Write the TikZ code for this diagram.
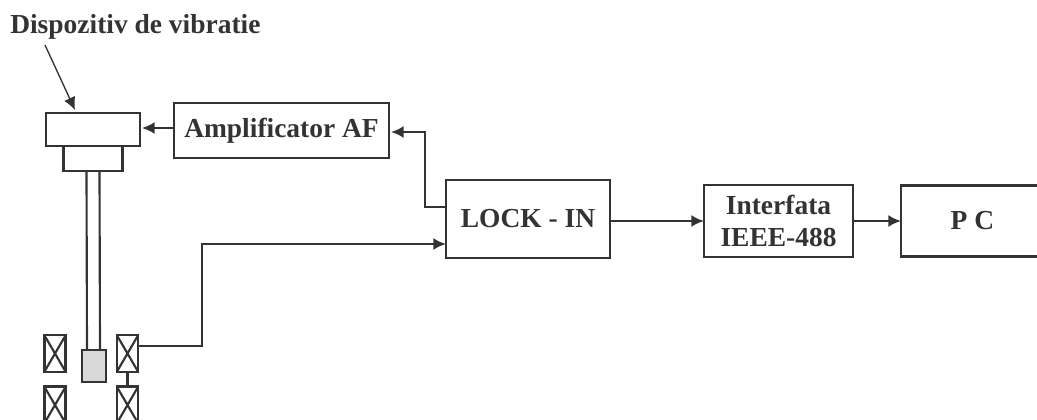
\documentclass[tikz,border=0pt]{standalone}
\usepackage{fontspec}
\setmainfont{Liberation Serif}
\usetikzlibrary{positioning,calc,arrows.meta}
\definecolor{inkgray}{HTML}{333333}

\begin{document}
\begin{tikzpicture}[
    x=0.75pt, y=-0.75pt,
    block/.style={draw=inkgray, line width=1.9pt, outer sep=0pt, inner sep=0pt, align=center, font=\bfseries\fontsize{20.6}{24}\selectfont, text=inkgray},
    part/.style={draw=inkgray, line width=1.9pt, outer sep=0pt, inner sep=0pt},
    coil/.style={part, minimum width=16pt, minimum height=27.5pt,
        path picture={\draw[inkgray, line width=1.6pt] (path picture bounding box.north west) -- (path picture bounding box.south east)
            (path picture bounding box.north east) -- (path picture bounding box.south west);}},
    wire/.style={draw=inkgray, line width=1.6pt},
    signal/.style={wire, -{Latex[length=9.5pt,width=9pt]}}
]
\useasboundingbox (0,0) rectangle (1037,420);

% Vibration device
\node[font=\bfseries\fontsize{20.6}{24}\selectfont, text=inkgray, anchor=base west, inner sep=0pt] (title) at (10,34) {Dispozitiv de vibratie};
\node[part, minimum width=70.5pt, minimum height=24.75pt] (head) at (93,129.5) {};
\node[part, minimum width=44.25pt, minimum height=18.75pt, below=0pt of head] (neck) {};
\node[part, fill=gray!30, minimum width=18pt, minimum height=24pt] (core) at (94,366) {};

% Blocks
\node[block, minimum width=161.25pt, minimum height=41.25pt] (amp) at (281.5,130.5) {Amplificator AF};
\node[block, minimum width=123pt, minimum height=58.5pt] (lockin) at (528,219) {LOCK - IN};
\node[block, minimum width=111.75pt, minimum height=54pt, right=70.5pt of lockin, yshift=-1.5pt] (iface) {Interfata\\IEEE-488};
\node[block, minimum width=107pt, minimum height=53.25pt, right=36pt of iface] (pc) {P C};

% Coils
\node[coil] (coilA) at (55,353.5) {};
\node[coil] (coilB) at (55,405) {};
\node[coil] (coilC) at (127.5,353.5) {};
\node[coil] (coilD) at (127.5,405) {};

% Connectors
\coordinate (pointer) at (45,45);
\draw[signal, line width=1pt] (pointer) -- (75,110);
\draw[signal] ($(amp.west)+(0,-2.5)$) -- ($(head.east)+(2,-1.5)$);
\draw[wire] ($(neck.south)+(-6.5,0)$) -- ($(core.north)+(-7,0)$);
\draw[wire] ($(neck.south)+(6.5,0)$) -- ($(core.north)+(6,0)$);
\draw[wire] (coilC) -- (coilD);
\draw[signal] ($(lockin.west)+(0,-12)$) -| (425,132) -- ($(amp.east)+(2,1.5)$);
\draw[signal] ($(coilC.east)+(0,-7.5)$) -| (202,244) -- ($(lockin.west)+(0,25)$);
\draw[signal] ($(lockin.east)+(0,2)$) -- (iface.west);
\draw[signal] (iface.east) -- (pc.west);

\end{tikzpicture}
\end{document}
